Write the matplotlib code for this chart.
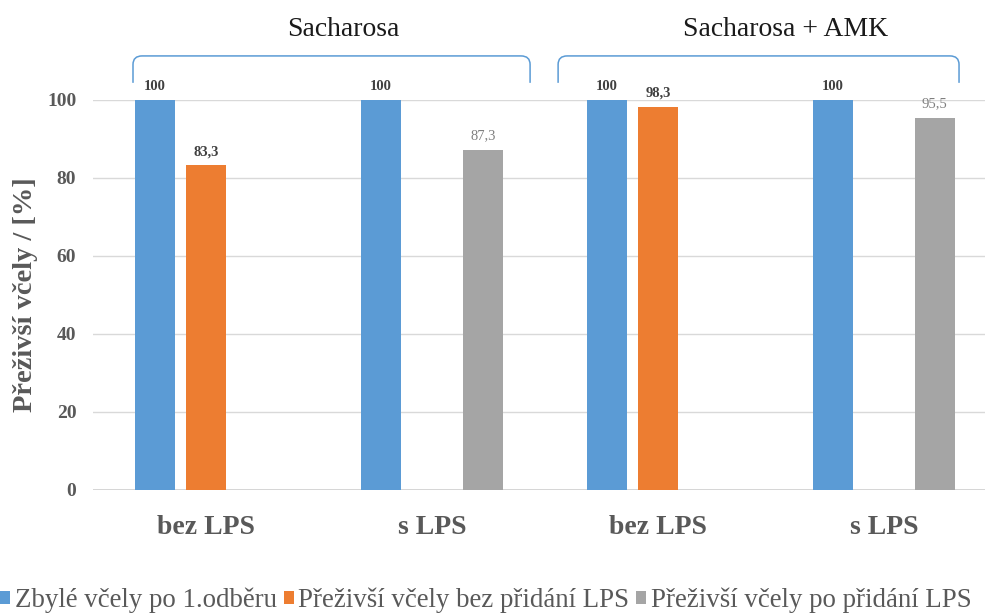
import numpy as np
import matplotlib
matplotlib.use("Agg")
import matplotlib.pyplot as plt
from matplotlib.path import Path
from matplotlib.patches import PathPatch, Patch

SERIF = ["Liberation Serif", "DejaVu Serif"]
plt.rcParams["font.family"] = SERIF

# Data
categories = ["bez LPS", "s LPS", "bez LPS", "s LPS"]
series_names = ["Zbylé včely po 1.odběru",
                "Přeživší včely bez přidání LPS",
                "Přeživší včely po přidání LPS"]
remaining = [100, 100, 100, 100]
survived_no_lps = [83.3, None, 98.3, None]
survived_with_lps = [None, 87.3, None, 95.5]
group_titles = ["Sacharosa", "Sacharosa + AMK"]
y_ticks = [0, 20, 40, 60, 80, 100]

colors = ["#5B9BD5", "#ED7D31", "#A5A5A5"]
label_styles = [dict(fontweight="bold", color="#404040"),
                dict(fontweight="bold", color="#404040"),
                dict(fontweight="normal", color="#7F7F7F")]

fig = plt.figure(figsize=(9.85, 6.14), dpi=100)
W, H = 985, 614
ax = fig.add_axes([93 / W, (H - 490) / H, 904 / W, 390 / H])

x = np.arange(len(categories))
slot = 0.225
bar_w = 0.175
all_series = [remaining, survived_no_lps, survived_with_lps]


def fmt(v):
    return f"{v:g}".replace(".", ",")


for i, (vals, col) in enumerate(zip(all_series, colors)):
    heights = [np.nan if v is None else v for v in vals]
    bars = ax.bar(x + (i - 1) * slot, heights, width=bar_w, color=col,
                  zorder=3, label=series_names[i])
    labels = ["" if v is None else fmt(v) for v in vals]
    ax.bar_label(bars, labels=labels, padding=5, fontsize=10.5,
                 clip_on=False, **label_styles[i])

ax.set_xlim(-0.5, len(categories) - 0.5)
ax.set_ylim(0, 100)
ax.set_yticks(y_ticks)
ax.set_yticklabels([str(t) for t in y_ticks], fontsize=14, fontweight="bold",
                   color="#595959")
ax.tick_params(axis="y", length=0, pad=12)
ax.set_xticks(x)
ax.set_xticklabels(categories, fontsize=20, fontweight="bold", color="#595959")
ax.tick_params(axis="x", length=0, pad=18)
ax.grid(axis="y", color="#D9D9D9", linewidth=1, zorder=0)
for s in ax.spines.values():
    s.set_visible(False)
ax.axhline(0, color="#D0D0D0", linewidth=1.2, zorder=2)

fig.text(26 / W, 1 - 295 / H, "Přeživší včely / [%]", rotation=90,
         ha="center", va="center", fontsize=20.5, fontweight="bold",
         color="#595959")

# Group brackets above the bars
bracket_spans = [(-0.323, 1.434), (1.558, 3.332)]
title_x = [0.606, 2.566]
y_low, y_high = 104.4, 111.3
rx, ry = 0.04, 2.2
for (x0, x1), tx, title in zip(bracket_spans, title_x, group_titles):
    verts = [(x0, y_low), (x0, y_high - ry), (x0, y_high), (x0 + rx, y_high),
             (x1 - rx, y_high), (x1, y_high), (x1, y_high - ry), (x1, y_low)]
    codes = [Path.MOVETO, Path.LINETO, Path.CURVE3, Path.CURVE3,
             Path.LINETO, Path.CURVE3, Path.CURVE3, Path.LINETO]
    ax.add_patch(PathPatch(Path(verts, codes), fill=False, edgecolor="#5B9BD5",
                           linewidth=1.1, clip_on=False))
    ax.text(tx, 118.2, title, ha="center", va="center", fontsize=20,
            color="#1A1A1A", clip_on=False)

handles = [Patch(facecolor=c, edgecolor="none") for c in colors]
fig.legend(handles, series_names, loc="center left",
           bbox_to_anchor=(0.0, 14 / H), ncol=3, frameon=False,
           prop=dict(family=SERIF, size=19.4), labelcolor="#595959",
           handlelength=0.37, handleheight=0.37, handletextpad=0.18,
           columnspacing=0.25, borderpad=0, borderaxespad=0)

fig.savefig("out.png", dpi=100)
